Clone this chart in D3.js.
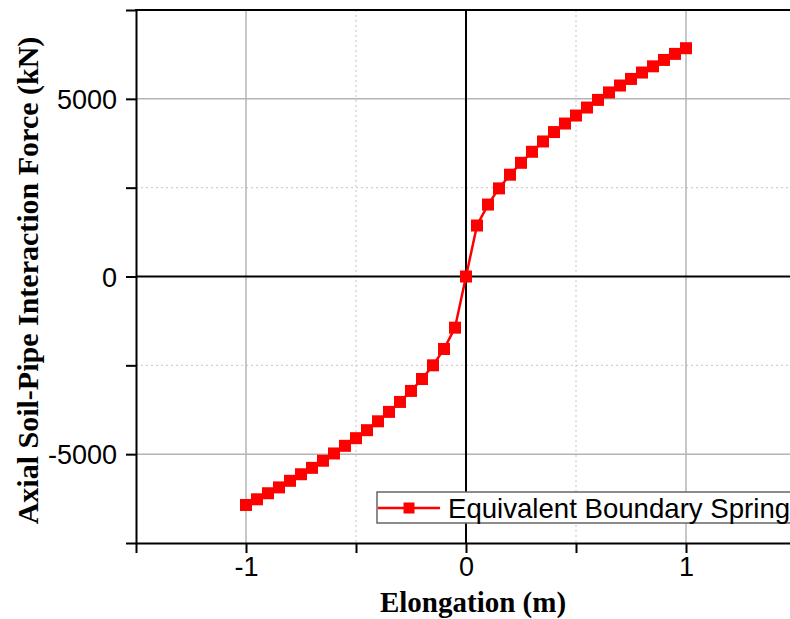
<!DOCTYPE html>
<html>
<head>
<meta charset="utf-8">
<script src="https://cdn.jsdelivr.net/npm/d3@7"></script>
<style>
  body { margin: 0; background: #fff; }
  svg { display: block; }
</style>
</head>
<body>
<svg id="chart" width="790" height="619"></svg>
<script>
// elongation (m) and axial force (kN)
const elongation = [-1, -0.95, -0.9, -0.85, -0.8, -0.75, -0.7, -0.65, -0.6, -0.55, -0.5,
  -0.45, -0.4, -0.35, -0.3, -0.25, -0.2, -0.15, -0.1, -0.05, 0,
  0.05, 0.1, 0.15, 0.2, 0.25, 0.3, 0.35, 0.4, 0.45, 0.5,
  0.55, 0.6, 0.65, 0.7, 0.75, 0.8, 0.85, 0.9, 0.95, 1];
const force = [-6430, -6270, -6100, -5935, -5750, -5565, -5385, -5185, -4980, -4765, -4550,
  -4325, -4075, -3810, -3530, -3220, -2885, -2500, -2040, -1440, 0,
  1435, 2025, 2480, 2865, 3200, 3510, 3800, 4065, 4305, 4530,
  4755, 4970, 5180, 5375, 5560, 5740, 5915, 6095, 6265, 6425];

const seriesName = 'Equivalent Boundary Spring';
const xTitle = 'Elongation (m)';
const yTitle = 'Axial Soil-Pipe Interaction Force (kN)';

const xTicks = [-1.5, -1, -0.5, 0, 0.5, 1, 1.5];
const xLabelled = [-1, 0, 1];
const yTicks = [-7500, -5000, -2500, 0, 2500, 5000, 7500];
const yLabelled = [-5000, 0, 5000];
const xMajorGrid = [-1, 1];
const xMinorGrid = [-0.5, 0.5];
const yMajorGrid = [-5000, 5000];
const yMinorGrid = [-2500, 2500];

const svg = d3.select('#chart');
const plotLeft = 136, plotRight = 796, plotTop = 10, plotBottom = 543;

const x = d3.scaleLinear().domain([-1.5, 1.5]).range([plotLeft, plotRight]);
const y = d3.scaleLinear().domain([-7500, 7500]).range([plotBottom, plotTop]);

// grid
const grid = svg.append('g');
grid.selectAll('.xmin').data(xMinorGrid).join('line')
  .attr('x1', d => x(d)).attr('x2', d => x(d)).attr('y1', plotTop).attr('y2', plotBottom)
  .attr('stroke', '#cfcfcf').attr('stroke-width', 1.2).attr('stroke-dasharray', '2,3');
grid.selectAll('.ymin').data(yMinorGrid).join('line')
  .attr('y1', d => y(d)).attr('y2', d => y(d)).attr('x1', plotLeft).attr('x2', plotRight)
  .attr('stroke', '#cfcfcf').attr('stroke-width', 1.2).attr('stroke-dasharray', '2,3');
grid.selectAll('.xmaj').data(xMajorGrid).join('line')
  .attr('x1', d => x(d)).attr('x2', d => x(d)).attr('y1', plotTop).attr('y2', plotBottom)
  .attr('stroke', '#b4b4b4').attr('stroke-width', 1.5);
grid.selectAll('.ymaj').data(yMajorGrid).join('line')
  .attr('y1', d => y(d)).attr('y2', d => y(d)).attr('x1', plotLeft).attr('x2', plotRight)
  .attr('stroke', '#b4b4b4').attr('stroke-width', 1.5);

// zero lines
svg.append('line').attr('x1', x(0)).attr('x2', x(0)).attr('y1', plotTop).attr('y2', plotBottom)
  .attr('stroke', '#000').attr('stroke-width', 2);
svg.append('line').attr('x1', plotLeft).attr('x2', plotRight).attr('y1', y(0)).attr('y2', y(0))
  .attr('stroke', '#000').attr('stroke-width', 2);

// top frame line
svg.append('line').attr('x1', plotLeft - 1).attr('x2', plotRight).attr('y1', plotTop).attr('y2', plotTop)
  .attr('stroke', '#000').attr('stroke-width', 2);

// axes (plain hyphen for negatives, like the original)
const xAxis = svg.append('g').attr('transform', `translate(0,${plotBottom})`)
  .call(d3.axisBottom(x).tickValues(xTicks).tickSize(10).tickSizeOuter(0)
    .tickFormat(d => xLabelled.includes(d) ? String(d) : ''));
const yAxis = svg.append('g').attr('transform', `translate(${plotLeft},0)`)
  .call(d3.axisLeft(y).tickValues(yTicks).tickSize(10).tickSizeOuter(0)
    .tickFormat(d => yLabelled.includes(d) ? String(d) : ''));

[xAxis, yAxis].forEach(a => {
  a.select('.domain').attr('stroke', '#000').attr('stroke-width', 2);
  a.selectAll('.tick line').attr('stroke', '#000').attr('stroke-width', 2);
  a.selectAll('.tick text').attr('fill', '#000')
    .style('font-family', 'Liberation Sans, Arial, sans-serif').style('font-size', '27px');
});
xAxis.selectAll('.tick text').attr('dy', '1.05em').attr('y', 5);
yAxis.selectAll('.tick text').attr('x', -19).attr('dy', '0.36em');

// titles
svg.append('text').attr('x', 473).attr('y', 612).attr('text-anchor', 'middle')
  .style('font-family', 'Liberation Serif, Times New Roman, serif')
  .style('font-weight', 'bold').style('font-size', '29px').text(xTitle);
svg.append('text').attr('transform', `translate(38,${(plotTop + plotBottom) / 2 + 4}) rotate(-90)`)
  .attr('text-anchor', 'middle')
  .style('font-family', 'Liberation Serif, Times New Roman, serif')
  .style('font-weight', 'bold').style('font-size', '30px').text(yTitle);

// series
const pts = elongation.map((e, i) => ({ e, f: force[i] }));
svg.append('path').datum(pts)
  .attr('d', d3.line().x(d => x(d.e)).y(d => y(d.f)))
  .attr('fill', 'none').attr('stroke', '#ff0000').attr('stroke-width', 2.5);
svg.append('g').selectAll('rect').data(pts).join('rect')
  .attr('x', d => x(d.e) - 6).attr('y', d => y(d.f) - 6)
  .attr('width', 12).attr('height', 12).attr('fill', '#ff0000');

// legend
const lg = svg.append('g').attr('transform', 'translate(377,492)');
lg.append('rect').attr('width', 430).attr('height', 31)
  .attr('fill', '#fff').attr('stroke', '#666').attr('stroke-width', 1.5);
lg.append('line').attr('x1', 1).attr('x2', 63).attr('y1', 16).attr('y2', 16)
  .attr('stroke', '#ff0000').attr('stroke-width', 2.5);
lg.append('rect').attr('x', 26.5).attr('y', 10.5).attr('width', 11).attr('height', 11)
  .attr('fill', '#ff0000');
lg.append('text').attr('x', 71).attr('y', 26)
  .style('font-family', 'Liberation Sans, Arial, sans-serif').style('font-size', '27.6px')
  .text(seriesName);
</script>
</body>
</html>
